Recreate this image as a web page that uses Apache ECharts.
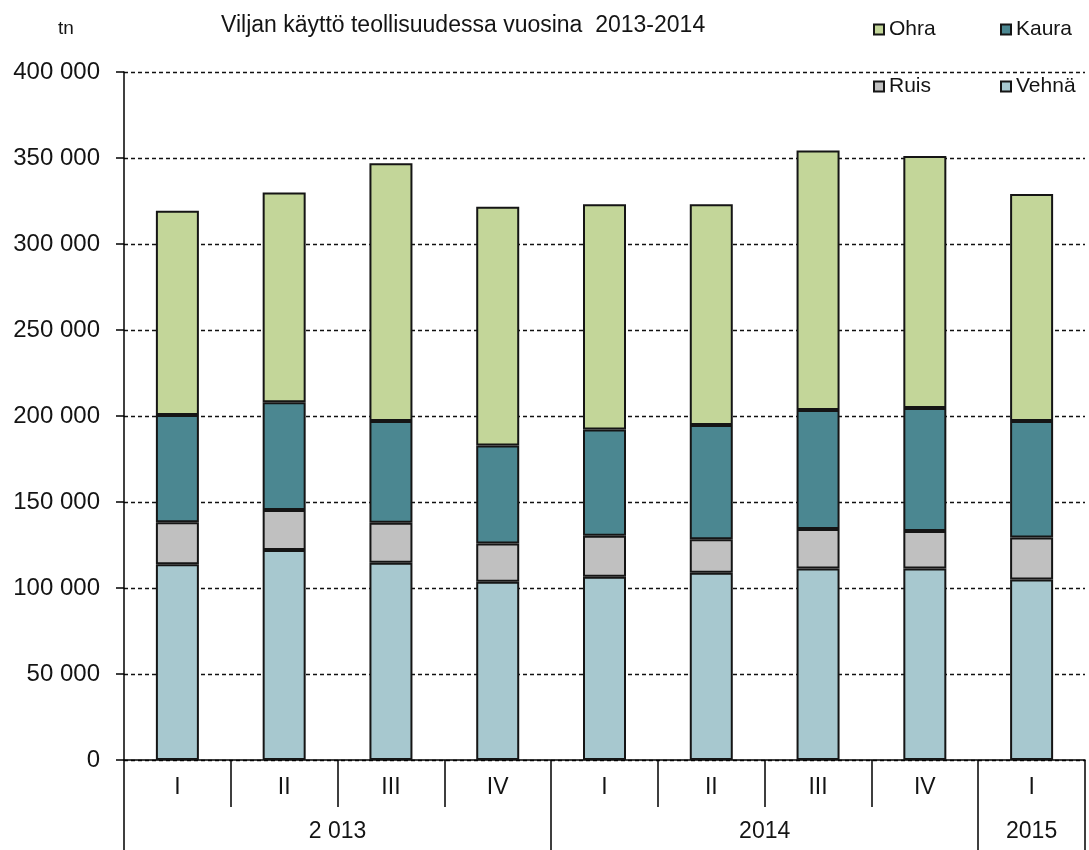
<!DOCTYPE html>
<html>
<head>
<meta charset="utf-8">
<script src="https://cdn.jsdelivr.net/npm/echarts@6.0.0/dist/echarts.min.js"></script>
<style>
  html, body { margin: 0; padding: 0; background: #fff; }
  #chart { width: 1089px; height: 850px; }
</style>
</head>
<body>
<div id="chart"></div>
<script>
var quarters = ['I', 'II', 'III', 'IV', 'I', 'II', 'III', 'IV', 'I'];
var years = ['2 013', '2014', '2015'];
var quartersPerYear = [4, 4, 1];

var vehna = [113800, 122100, 114700, 103700, 106600, 108900, 111400, 111400, 105000];
var ruis = [24400, 23200, 23300, 22100, 23800, 19400, 22900, 21700, 24300];
var kaura = [62400, 62700, 59100, 57000, 61800, 66500, 69200, 71600, 67800];
var ohra = [118800, 122000, 149800, 138900, 130900, 128300, 150800, 146500, 132000];

var yTicks = [0, 50000, 100000, 150000, 200000, 250000, 300000, 350000, 400000];

// year group boundaries and centres on a 0..9 value axis
var yearBounds = [0];
var yearCentres = [];
quartersPerYear.forEach(function (n) {
    var start = yearBounds[yearBounds.length - 1];
    yearCentres.push(start + n / 2);
    yearBounds.push(start + n);
});

var font = 'Liberation Sans, Arial, sans-serif';
var ink = '#141414';
var edge = { borderColor: '#151515', borderWidth: 2 };

function spaced(v) {
    return String(v).replace(/\B(?=(\d{3})+(?!\d))/g, ' ');
}

function legendAt(name, left, top) {
    return {
        data: [name],
        left: left,
        top: top,
        icon: 'rect',
        itemWidth: 10,
        itemHeight: 10,
        selectedMode: false,
        textStyle: { fontFamily: font, fontSize: 21, color: ink }
    };
}

var chart = echarts.init(document.getElementById('chart'));

var option = {
    animation: false,
    backgroundColor: '#fff',
    title: [{
        text: 'Viljan käyttö teollisuudessa vuosina  2013-2014',
        left: 216,
        top: 9,
        textStyle: { fontFamily: font, fontSize: 23, fontWeight: 'normal', color: ink }
    }, {
        text: 'tn',
        left: 53,
        top: 14,
        textStyle: { fontFamily: font, fontSize: 19, fontWeight: 'normal', color: ink }
    }],
    legend: [
        legendAt('Ohra', 868, 14),
        legendAt('Kaura', 995, 14),
        legendAt('Ruis', 868, 71),
        legendAt('Vehnä', 995, 71)
    ],
    grid: { left: 124, right: 4, top: 72, bottom: 90, containLabel: false },
    xAxis: [{
        type: 'category',
        data: quarters,
        axisLine: { lineStyle: { color: '#000', width: 1.5 } },
        axisTick: { show: true, length: 47, lineStyle: { color: '#000', width: 1.5 } },
        axisLabel: { margin: 16, fontFamily: font, fontSize: 23, color: ink },
        splitLine: { show: false }
    }, {
        type: 'value',
        min: 0,
        max: quarters.length,
        position: 'bottom',
        axisLine: { show: false },
        axisTick: {
            show: true,
            length: 92,
            customValues: yearBounds,
            lineStyle: { color: '#000', width: 1.5 }
        },
        axisLabel: {
            margin: 60,
            customValues: yearCentres,
            fontFamily: font,
            fontSize: 23,
            color: ink,
            formatter: function (v) {
                var i = yearCentres.indexOf(v);
                return i >= 0 ? years[i] : '';
            }
        },
        splitLine: { show: false }
    }],
    yAxis: {
        type: 'value',
        min: yTicks[0],
        max: yTicks[yTicks.length - 1],
        interval: yTicks[1] - yTicks[0],
        axisLine: { show: true, lineStyle: { color: '#000', width: 1.5 } },
        axisTick: { show: true, length: 8, lineStyle: { color: '#000', width: 1.5 } },
        axisLabel: {
            margin: 24,
            fontFamily: font,
            fontSize: 24,
            color: ink,
            formatter: spaced
        },
        splitLine: { show: true, lineStyle: { color: '#111', width: 1.4, type: [4, 3] } }
    },
    series: [{
        name: 'Vehnä',
        type: 'bar',
        stack: 'total',
        barWidth: 43,
        data: vehna,
        itemStyle: Object.assign({ color: '#a7c8cf' }, edge)
    }, {
        name: 'Ruis',
        type: 'bar',
        stack: 'total',
        barWidth: 43,
        data: ruis,
        itemStyle: Object.assign({ color: '#c0c0c0' }, edge)
    }, {
        name: 'Kaura',
        type: 'bar',
        stack: 'total',
        barWidth: 43,
        data: kaura,
        itemStyle: Object.assign({ color: '#4b8791' }, edge)
    }, {
        name: 'Ohra',
        type: 'bar',
        stack: 'total',
        barWidth: 43,
        data: ohra,
        itemStyle: Object.assign({ color: '#c3d699' }, edge)
    }]
};

chart.setOption(option);
</script>
</body>
</html>
